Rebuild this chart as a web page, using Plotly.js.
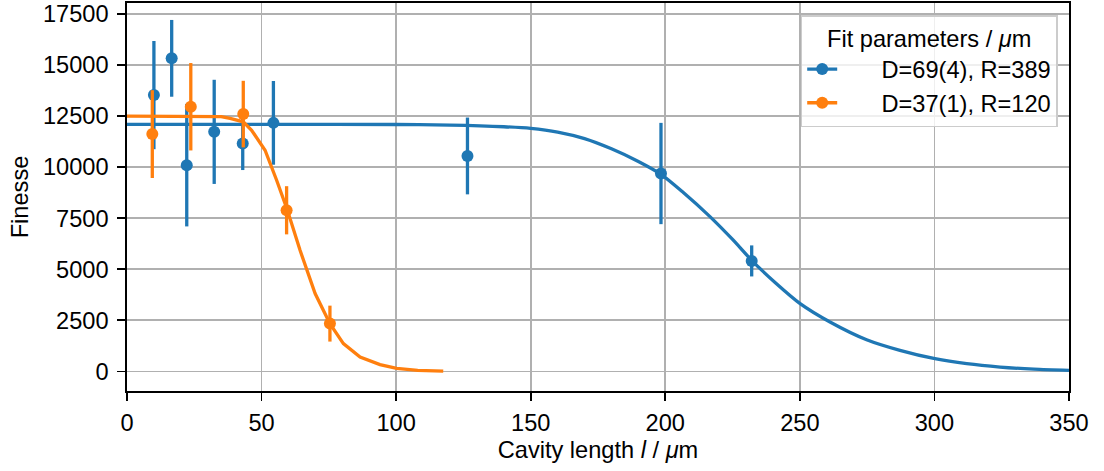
<!DOCTYPE html>
<html>
<head>
<meta charset="utf-8">
<script src="https://cdn.plot.ly/plotly-3.0.1.min.js"></script>
<style>
  html, body { margin: 0; padding: 0; background: #ffffff; }
  #chart { width: 1104px; height: 471px; }
</style>
</head>
<body>
<div id="chart"></div>
<script>
// Measured data (blue: D=69(4), R=389)
const blueX   = [10.0, 16.6, 22.2, 32.4, 43.0, 54.4, 126.5, 198.4, 232.1];
const blueY   = [13530, 15330, 10100, 11730, 11160, 12170, 10550, 9690, 5410];
const blueErr = [2650, 1880, 3000, 2550, 1300, 2050, 1880, 2480, 760];

// Measured data (orange: D=37(1), R=120)
const orangeX   = [9.4, 23.7, 43.2, 59.3, 75.4];
const orangeY   = [11620, 12960, 12600, 7890, 2340];
const orangeErr = [2150, 2140, 1630, 1180, 880];

// Fit curves
const blueFitX = [0, 60, 100, 120, 140, 150, 160, 170, 180, 190, 198.4, 206.7, 216.6, 225, 232.1, 241, 250.1, 261.2, 274.8, 287.2, 300.2, 312, 324.4, 337, 350];
const blueFitY = [12100, 12100, 12090, 12060, 11980, 11900, 11720, 11400, 10900, 10280, 9650, 8760, 7580, 6460, 5440, 4330, 3320, 2420, 1550, 1030, 620, 376, 212, 110, 49];

const orangeFitX = [0, 20, 35, 38.3, 43.2, 46.3, 51.3, 55.6, 59.6, 64.3, 69.9, 75.4, 80.4, 86.6, 94, 100.2, 108, 117.5];
const orangeFitY = [12500, 12500, 12480, 12390, 12220, 11810, 10830, 9360, 7890, 5930, 3810, 2340, 1360, 700, 330, 150, 50, 10];

const labels = ['D=69(4), R=389', 'D=37(1), R=120'];
const xTicks = [0, 50, 100, 150, 200, 250, 300, 350];
const yTicks = [0, 2500, 5000, 7500, 10000, 12500, 15000, 17500];
const yTickText = ['0', '2500', '5000', '7500', '10000', '12500', '15000', '17500'];

const BLUE = '#1f77b4', ORANGE = '#ff7f0e';
const FONT = 'Liberation Sans, Arial, Helvetica, sans-serif';
const FS = 23.6;
const LW = 3.3;
const PAD = '\u00a0\u00a0\u00a0\u00a0\u00a0\u00a0';

const traces = [
  {
    x: blueX, y: blueY, type: 'scatter', mode: 'markers', showlegend: false,
    marker: {color: BLUE, size: 12},
    error_y: {type: 'data', array: blueErr, visible: true, color: BLUE, thickness: LW, width: 0}
  },
  {
    x: blueFitX, y: blueFitY, type: 'scatter', mode: 'lines', showlegend: false,
    line: {color: BLUE, width: LW, shape: 'spline', smoothing: 0.8}, hoverinfo: 'skip'
  },
  {
    x: orangeX, y: orangeY, type: 'scatter', mode: 'markers', showlegend: false,
    marker: {color: ORANGE, size: 12},
    error_y: {type: 'data', array: orangeErr, visible: true, color: ORANGE, thickness: LW, width: 0}
  },
  {
    x: orangeFitX, y: orangeFitY, type: 'scatter', mode: 'lines', showlegend: false,
    line: {color: ORANGE, width: LW}, hoverinfo: 'skip'
  },
  // legend handles (errorbar-style: line + marker)
  {
    x: [null], y: [null], type: 'scatter', mode: 'lines+markers', name: PAD + labels[0], legendgroup: 'a',
    marker: {color: BLUE, size: 12}, line: {color: BLUE, width: LW}
  },
  {
    x: [null], y: [null], type: 'scatter', mode: 'lines+markers', name: PAD + labels[1], legendgroup: 'b',
    marker: {color: ORANGE, size: 12}, line: {color: ORANGE, width: LW}
  }
];

const axisCommon = {
  showline: true, linecolor: '#000', linewidth: 1.7, mirror: true,
  ticks: 'outside', ticklen: 8, tickwidth: 1.7, tickcolor: '#000',
  showgrid: true, gridcolor: '#b0b0b0', gridwidth: 1.7,
  zeroline: false,
  tickfont: {family: FONT, size: FS, color: '#000'}
};

const layout = {
  width: 1104, height: 471,
  margin: {l: 127, r: 35, t: 3, b: 80},
  paper_bgcolor: '#fff', plot_bgcolor: '#fff',
  font: {family: FONT, size: FS, color: '#000'},
  xaxis: Object.assign({}, axisCommon, {
    range: [0, 350], tickmode: 'array', tickvals: xTicks,
    ticklabelstandoff: 2,
    title: {text: 'Cavity length <i>l</i> / <i>μ</i>m', font: {family: FONT, size: FS}, standoff: 6}
  }),
  yaxis: Object.assign({}, axisCommon, {
    range: [-960, 18040], tickmode: 'array', tickvals: yTicks, ticktext: yTickText,
    ticklabelstandoff: 4,
    title: {text: 'Finesse', font: {family: FONT, size: FS}, standoff: 8}
  }),
  legend: {
    x: 0.988, y: 0.969, xanchor: 'right', yanchor: 'top',
    bgcolor: 'rgba(255,255,255,0.8)', bordercolor: '#cccccc', borderwidth: 1.5,
    font: {family: FONT, size: FS, color: '#000'},
    title: {text: 'Fit parameters / <i>μ</i>m', side: 'top center', font: {family: FONT, size: FS}},
    traceorder: 'grouped', tracegroupgap: 0
  },
  showlegend: true
};

Plotly.newPlot('chart', traces, layout, {displayModeBar: false, staticPlot: true});
</script>
</body>
</html>
